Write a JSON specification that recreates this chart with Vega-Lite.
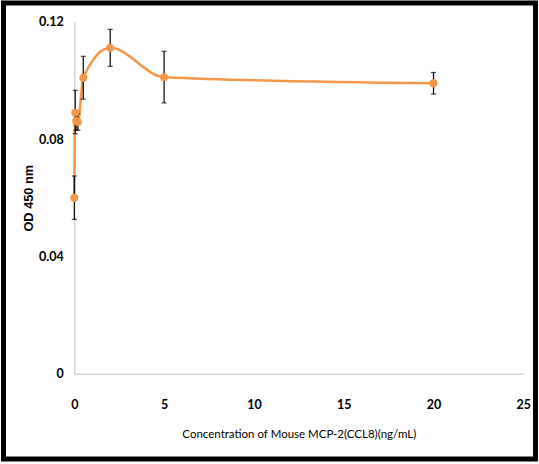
{
  "$schema": "https://vega.github.io/schema/vega-lite/v6.json",
  "width": 532,
  "height": 456,
  "autosize": {"type": "none"},
  "padding": {"left": 3.5, "top": 3, "right": 3.5, "bottom": 5},
  "background": "white",
  "config": {
    "view": {"stroke": "black", "strokeWidth": 5},
    "axis": {
      "grid": false,
      "ticks": false,
      "labelFlush": false,
      "domainColor": "#bfbfbf",
      "domainWidth": 1,
      "labelFont": "Lato",
      "labelFontWeight": "bold",
      "labelFontSize": 12.5,
      "labelColor": "black"
    },
    "axisX": {
      "offset": -85.3,
      "labelPadding": 25,
      "titleFont": "Lato",
      "titleFontWeight": "normal",
      "titleFontSize": 11.5,
      "titleColor": "black",
      "titlePadding": 17
    },
    "axisY": {
      "offset": -70.8,
      "labelPadding": 11,
      "titleFont": "Liberation Sans",
      "titleFontWeight": "bold",
      "titleFontSize": 12.8,
      "titleColor": "black",
      "titlePadding": 3
    }
  },
  "data": {
    "values": [
      {"conc": 0, "od": 0.0600, "lo": 0.0526, "hi": 0.0674},
      {"conc": 0.05, "od": 0.0890, "lo": 0.0818, "hi": 0.0966},
      {"conc": 0.1, "od": 0.0862, "lo": 0.0830, "hi": 0.0894},
      {"conc": 0.2, "od": 0.0858, "lo": 0.0830, "hi": 0.0886},
      {"conc": 0.5, "od": 0.1009, "lo": 0.0936, "hi": 0.1082},
      {"conc": 2, "od": 0.1111, "lo": 0.1048, "hi": 0.1174},
      {"conc": 5, "od": 0.1011, "lo": 0.0923, "hi": 0.1099},
      {"conc": 20, "od": 0.0990, "lo": 0.0953, "hi": 0.1027}
    ]
  },
  "encoding": {
    "x": {
      "field": "conc",
      "type": "quantitative",
      "title": "Concentration of Mouse MCP-2(CCL8)(ng/mL)",
      "scale": {"domain": [0, 25], "range": [70.8, 519.8], "nice": false, "zero": false},
      "axis": {"values": [0, 5, 10, 15, 20, 25], "format": "d"}
    }
  },
  "layer": [
    {
      "mark": {"type": "line", "interpolate": "monotone", "color": "#F79646", "strokeWidth": 2.5},
      "encoding": {
        "y": {
          "field": "od",
          "type": "quantitative",
          "title": "OD 450 nm",
          "scale": {"domain": [0, 0.12], "range": [370.7, 18.7], "nice": false, "zero": false},
          "axis": {"values": [0, 0.04, 0.08, 0.12], "format": "~g"}
        }
      }
    },
    {
      "mark": {"type": "errorbar", "color": "black", "thickness": 1.2, "ticks": {"size": 5}},
      "encoding": {
        "y": {
          "field": "lo",
          "type": "quantitative",
          "title": "OD 450 nm",
          "scale": {"domain": [0, 0.12], "range": [370.7, 18.7], "nice": false, "zero": false}
        },
        "y2": {"field": "hi"}
      }
    },
    {
      "mark": {"type": "point", "filled": true, "size": 62, "color": "#F79646", "opacity": 1},
      "encoding": {
        "y": {
          "field": "od",
          "type": "quantitative",
          "title": "OD 450 nm",
          "scale": {"domain": [0, 0.12], "range": [370.7, 18.7], "nice": false, "zero": false}
        }
      }
    }
  ]
}
